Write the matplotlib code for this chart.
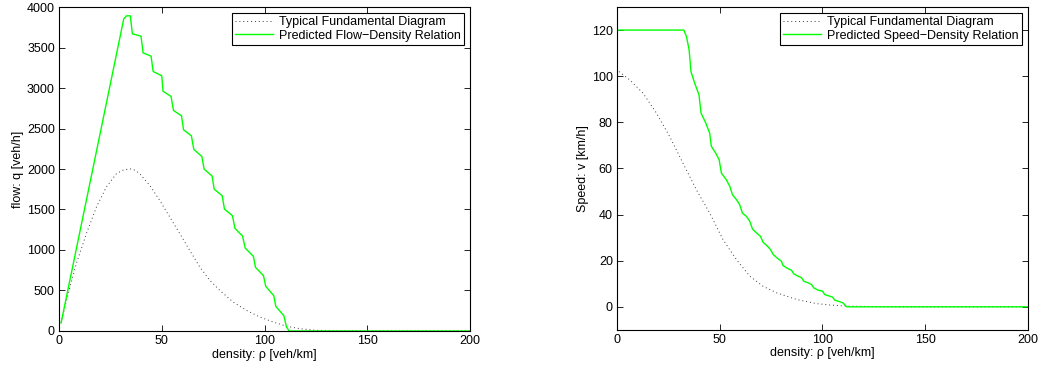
import numpy as np
import matplotlib.pyplot as plt

plt.rcParams['font.family'] = ['Liberation Sans', 'DejaVu Sans']

# Typical fundamental diagram
rho_typ = [1, 3.6, 8.4, 13.3, 18.2, 23, 27.9, 31, 34.4, 37, 39.3, 44.2, 49,
           53.9, 58.8, 63.6, 68.5, 73.4, 78.2, 84.7, 91.2, 97.7, 104.2, 110.7,
           117.2, 125.3, 135, 150, 200]
q_typ = [100, 378, 831, 1201, 1530, 1777, 1941, 1985, 2003, 1985, 1941, 1797,
         1612, 1407, 1201, 995, 790, 625, 502, 358, 255, 173, 111, 58, 29, 8,
         2, 0, 0]

rho_vtyp = [1, 6.2, 12.7, 19.2, 25.6, 32.1, 38.6, 45.1, 51.6, 58.1, 64.6,
            71.1, 77.6, 87.3, 97, 103.6, 112, 125, 140, 200]
v_typ = [102, 98.4, 92.6, 84, 73.9, 62.3, 50.8, 40.7, 29.1, 20.5, 13.3,
         8.9, 6.1, 3.2, 1.4, 0.8, 0.3, 0.1, 0, 0]

# Predicted flow-density relation
rho_q = [1, 31.5, 32.8, 34.7, 35.7, 39.9, 40.9, 44.8, 45.8, 50, 50.6, 54.5,
         55.7, 59.6, 60.6, 64.4, 65.6, 69.5, 70.6, 74.5, 75.5, 79.4, 80.5,
         84.4, 85.6, 89.3, 90.6, 94.6, 95.6, 99.5, 100.6, 104.5, 105.5, 109.4,
         110.7, 112, 200]
q_pred = [100, 3854, 3891, 3891, 3669, 3640, 3434, 3393, 3204, 3150, 2961,
          2896, 2723, 2657, 2484, 2410, 2242, 2155, 1999, 1913, 1752, 1670,
          1505, 1423, 1267, 1172, 1024, 921, 786, 683, 551, 436, 304, 189,
          49, 0, 0]

# Predicted speed-density relation
rho_v = [0, 32.5, 33.8, 35.1, 36, 37.8, 39.9, 40.9, 43.2, 45.1, 45.9, 48,
         49.7, 50.8, 53.2, 54.9, 56.2, 58.1, 59.7, 61, 63, 64.6, 65.9, 67.9,
         69.8, 71.1, 73.2, 74.7, 76, 78.4, 80, 80.8, 83.3, 84.9, 86, 88.1,
         89.8, 90.9, 93, 94.6, 95.8, 97.9, 100, 101.1, 103.6, 104.9, 106,
         108.4, 110, 111.4, 112, 200]
v_pred = [120, 120, 117.2, 111.4, 102, 97, 91.9, 84, 79.7, 75.3, 69.6, 66.7,
          63.8, 58, 55.1, 52.2, 48.6, 46.5, 44.3, 40.7, 39.2, 37.1, 33.8, 32,
          30.6, 28, 26.3, 24.8, 22.7, 20.8, 19.8, 17.9, 16.5, 15.9, 14.3,
          13.3, 12.6, 11.1, 10.4, 9.7, 8.2, 7.2, 6.8, 5.3, 4.6, 4.2, 2.9, 2.2,
          1.7, 0.3, 0, 0]

fig = plt.figure(figsize=(10.41, 3.69), dpi=100)
ax1 = fig.add_axes([0.0567, 0.103, 0.3948, 0.878])
ax2 = fig.add_axes([0.5927, 0.106, 0.3948, 0.875])

green = (0, 1, 0)
dot_col = '#3a3a3a'


def style(ax):
    ax.tick_params(direction='in', top=True, right=True, length=4,
                   width=0.6, labelsize=9, pad=3)
    for s in ax.spines.values():
        s.set_linewidth(0.8)
    ax.set_xlim(0, 200)
    ax.set_xticks([0, 50, 100, 150, 200])
    ax.set_xlabel('density: ρ [veh/km]', fontsize=9, labelpad=1)
    leg = ax.legend(loc='upper right', fontsize=9, fancybox=False,
                    edgecolor='black', framealpha=1, handlelength=3.0,
                    handletextpad=0.5, borderpad=0.25, labelspacing=0.1,
                    borderaxespad=0.5)
    leg.get_frame().set_linewidth(0.8)


ax1.plot(rho_typ, q_typ, linestyle=(0, (1, 3)), color=dot_col, linewidth=0.7,
         label='Typical Fundamental Diagram')
ax1.plot(rho_q, q_pred, color=green, linewidth=1.0,
         label='Predicted Flow\u2212Density Relation')
ax1.set_ylim(0, 4000)
ax1.set_yticks(np.arange(0, 4001, 500))
ax1.set_ylabel('flow: q [veh/h]', fontsize=9, labelpad=2)
style(ax1)

ax2.plot(rho_vtyp, v_typ, linestyle=(0, (1, 3)), color=dot_col, linewidth=0.7,
         label='Typical Fundamental Diagram')
ax2.plot(rho_v, v_pred, color=green, linewidth=1.0,
         label='Predicted Speed\u2212Density Relation')
ax2.set_ylim(-10, 130)
ax2.set_yticks(np.arange(0, 121, 20))
ax2.set_ylabel('Speed: v [km/h]', fontsize=9, labelpad=2)
style(ax2)

fig.savefig('out.png', dpi=100)
